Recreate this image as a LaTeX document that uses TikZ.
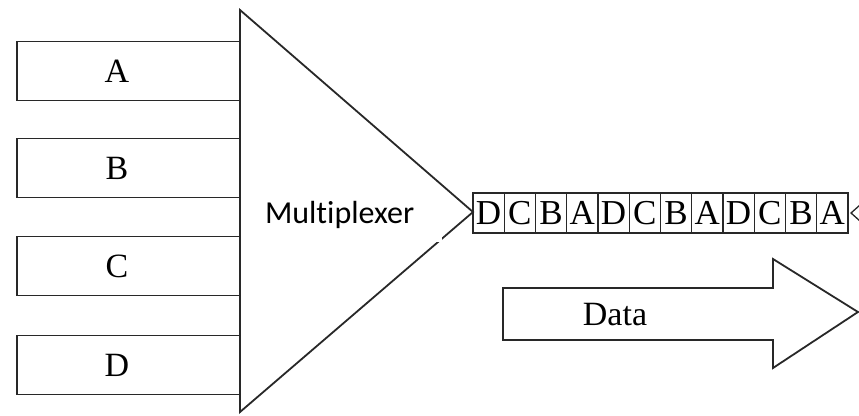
\documentclass[tikz,border=0pt]{standalone}
\usepackage{fontspec}
\setmainfont{Liberation Serif}
\newfontfamily\calfont[Ligatures=NoCommon]{Carlito}
\begin{document}
\begin{tikzpicture}[x=1pt,y=-1pt,
  ink/.style={draw={rgb,255:red,40;green,40;blue,40}},
  inbox/.style={ink, line width=1.8pt, minimum width=223pt, minimum height=59pt, inner sep=0pt},
  inlabel/.style={font=\fontsize{34}{34}\selectfont, inner sep=0pt},
  cell/.style={ink, line width=1.1pt, minimum width=31.25pt, minimum height=40pt, inner sep=0pt,
    font=\fontsize{35}{35}\selectfont},
  muxlabel/.style={font=\calfont\fontsize{32}{32}\selectfont, fill=white, text width=167pt,
    align=left, inner xsep=10pt, inner ysep=0pt, minimum height=54pt},
  outline/.style={ink, line width=1.8pt, line join=miter}
]
\useasboundingbox (0,0) rectangle (859,415);

% input channels
\node[inbox] (boxA) at (128.5,71)  {};
\node[inbox] (boxB) at (128.5,168) {};
\node[inbox] (boxC) at (128.5,266) {};
\node[inbox] (boxD) at (128.5,365) {};
\node[inlabel] (labA) at (117,71)  {A};
\node[inlabel] (labB) at (117,168) {B};
\node[inlabel] (labC) at (117,266) {C};
\node[inlabel] (labD) at (117,365) {D};

% multiplexer triangle
\coordinate (mtop) at (240,10);
\coordinate (mbot) at (240,412);
\coordinate (mtip) at (473,212);
\draw[outline] (mtop) -- (mtip) -- (mbot) -- cycle;
\node[muxlabel] (mux) at (348.5,215) {Multiplexer};

% output time slots
\foreach \t [count=\i from 0] in {D,C,B,A,D,C,B,A,D,C,B,A}
  \node[cell] (slot\i) at ({488.6+31.25*\i},213) {\t};

% incoming edge at the far right
\coordinate (rin1) at (860,205);
\coordinate (rtip) at (851,213);
\coordinate (rin2) at (860,221);
\draw[ink, line width=1.3pt] (rin1) -- (rtip) -- (rin2);

% data direction arrow
\coordinate (a1) at (503,288);
\coordinate (a2) at (773,288);
\coordinate (a3) at (773,259);
\coordinate (a4) at (858,312);
\coordinate (a5) at (773,368);
\coordinate (a6) at (773,340);
\coordinate (a7) at (503,340);
\draw[outline] (a1) -- (a2) -- (a3) -- (a4) -- (a5) -- (a6) -- (a7) -- cycle;
\node[inlabel] (data) at (615,315) {Data};
\end{tikzpicture}
\end{document}
